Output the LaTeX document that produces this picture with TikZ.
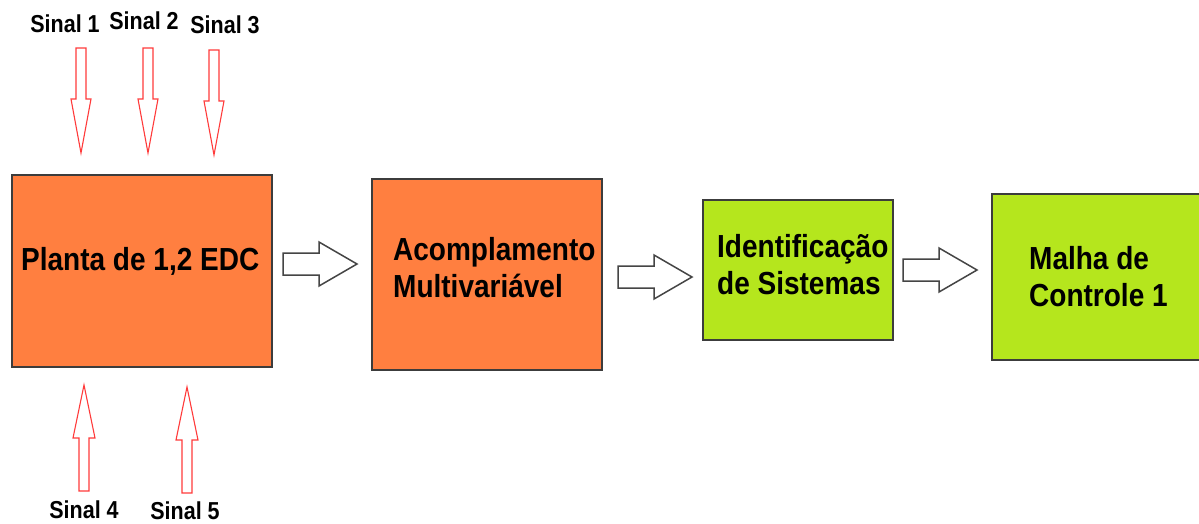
\documentclass[tikz,border=0pt]{standalone}
\usepackage{fontspec}
\usepackage{graphicx}
\setmainfont{Liberation Sans}
\definecolor{boxorange}{HTML}{FF7F40}
\definecolor{boxgreen}{HTML}{B5E61D}
\definecolor{edgegray}{HTML}{3C3C3C}
\definecolor{arrowgray}{HTML}{454545}
\definecolor{sigred}{HTML}{FF3B3B}
\newcommand{\tallbox}[1]{\scalebox{1}[1.14]{#1}}
\begin{document}
\begin{tikzpicture}[x=1pt,y=-1pt,
  stage/.style={draw=edgegray, line width=1.6pt, inner sep=0pt},
  orangebox/.style={stage, fill=boxorange},
  greenbox/.style={stage, fill=boxgreen},
  boxtext/.style={font=\fontsize{28}{33}\selectfont\bfseries, inner sep=0pt, anchor=base west},
  siglabel/.style={font=\fontsize{21.5}{24}\selectfont\bfseries, inner sep=0pt},
  blockarrow/.style={draw=arrowgray, line width=1.5pt, fill=white, line join=miter},
  sigarrow/.style={draw=sigred, line width=1.1pt, fill=white, line join=miter},
  harr/.pic={\draw[blockarrow] (0,-11) -- (36,-11) -- (36,-22) -- (74,0) -- (36,22) -- (36,11) -- (0,11) -- cycle;},
  sigdown/.pic={\draw[sigarrow] (-5,0) -- (-5,51) -- (-10,51) -- (0,105) -- (10,51) -- (5,51) -- (5,0) -- cycle;},
  sigup/.pic={\draw[sigarrow] (0,0) -- (11,53) -- (5,53) -- (5,106) -- (-5,106) -- (-5,53) -- (-11,53) -- cycle;}
]
\useasboundingbox (0,0) rectangle (1199,523);
\clip (0,0) rectangle (1199,523);
\fill[white] (0,0) rectangle (1199,523);

% boxes
\node[orangebox, minimum width=260pt, minimum height=192pt] (b1) at (142,271) {};
\node[orangebox, minimum width=230pt, minimum height=191pt] (b2) at (487,274.5) {};
\node[greenbox, minimum width=190pt, minimum height=140pt] (b3) at (798,270) {};
\node[greenbox, minimum width=240pt, minimum height=166pt] (b4) at (1112,277) {};

% box texts
\node[boxtext] (t1) at (21,270) {\tallbox{Planta de 1,2 EDC}};
\node[boxtext] (t2) at (393,260) {\tallbox{\begin{tabular}[t]{@{}l@{}}Acomplamento\\Multivariável\end{tabular}}};
\node[boxtext] (t3) at (717,257) {\tallbox{\begin{tabular}[t]{@{}l@{}}Identificação\\de Sistemas\end{tabular}}};
\node[boxtext] (t4) at (1029,269) {\tallbox{\begin{tabular}[t]{@{}l@{}}Malha de\\Controle 1\end{tabular}}};

% block arrows between stages
\pic at (283,264) {harr};
\pic at (618,277) {harr};
\pic at (903,270) {harr};

% signal arrows
\pic at (81,48) {sigdown};
\pic at (148,48) {sigdown};
\pic at (214,50) {sigdown};
\pic at (84,385) {sigup};
\pic at (187,387) {sigup};

% signal labels
\node[siglabel] (s1) at (65,24) {\tallbox{Sinal 1}};
\node[siglabel] (s2) at (144,21) {\tallbox{Sinal 2}};
\node[siglabel] (s3) at (225,25) {\tallbox{Sinal 3}};
\node[siglabel] (s4) at (84,510) {\tallbox{Sinal 4}};
\node[siglabel] (s5) at (185,510.5) {\tallbox{Sinal 5}};
\end{tikzpicture}
\end{document}
